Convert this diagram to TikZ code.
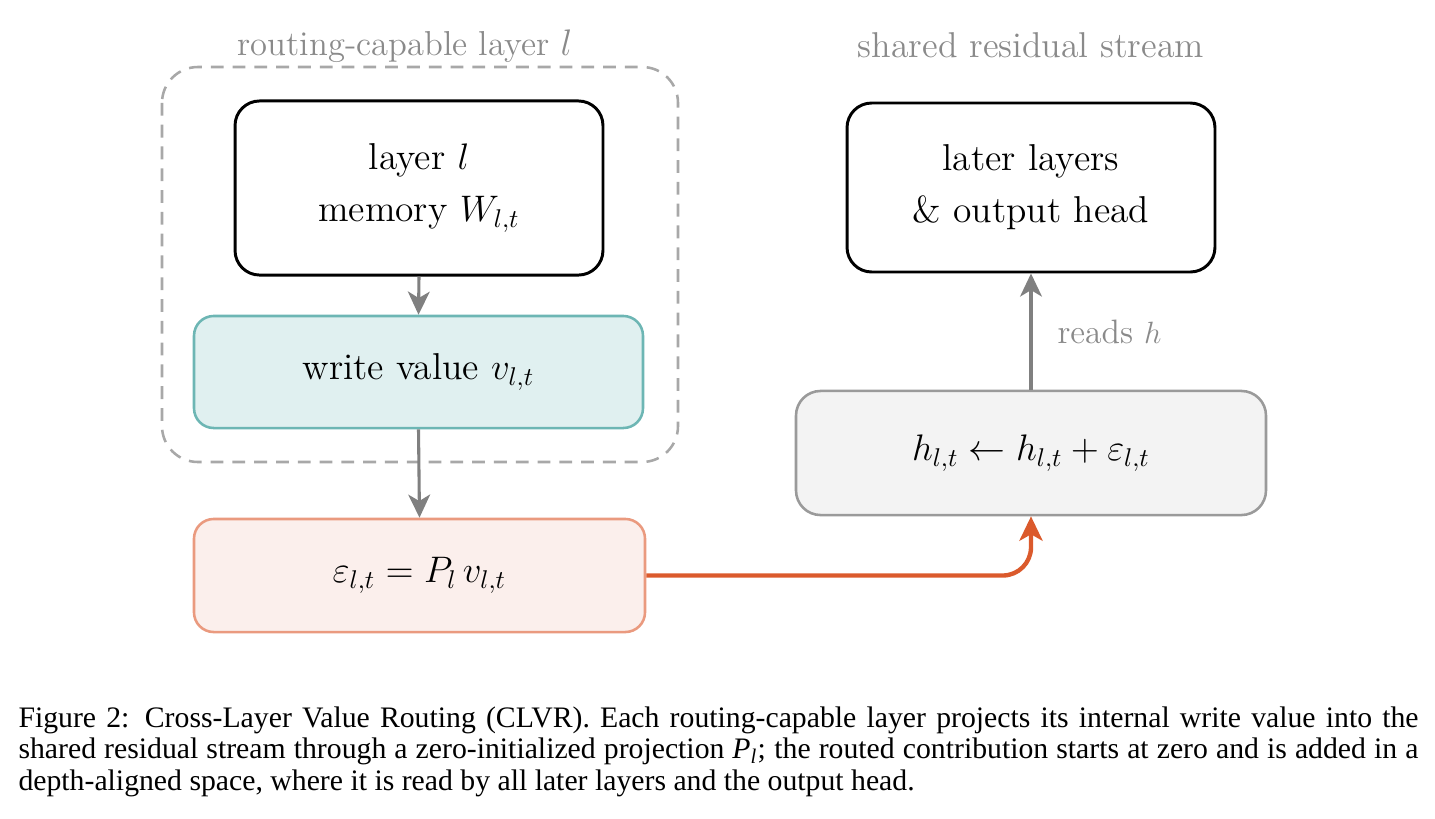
\documentclass[tikz,border=0pt]{standalone}
\usepackage{fontspec}
\usetikzlibrary{arrows.meta}
\newfontfamily\capfont{Liberation Serif}
\definecolor{arrgray}{HTML}{808080}
\definecolor{labgray}{HTML}{8A8A8A}
\definecolor{dashgray}{HTML}{A8A8A8}
\definecolor{tealdraw}{HTML}{6DB6B4}
\definecolor{tealfill}{HTML}{E0F0F0}
\definecolor{ordraw}{HTML}{EA9A7F}
\definecolor{orfill}{HTML}{FBEFEC}
\definecolor{orarrow}{HTML}{DB5A2C}
\definecolor{gbdraw}{HTML}{9A9A9A}
\definecolor{gbfill}{HTML}{F3F3F3}
\begin{document}
\begin{tikzpicture}[x=0.39pt,y=-0.39pt,
  dfont/.style={font=\fontsize{14.6}{20.3}\selectfont},
  blackbox/.style={dfont,draw=black,line width=1.15pt,rounded corners=9.6pt,align=center,inner sep=0pt},
  tealbox/.style={dfont,draw=tealdraw,fill=tealfill,line width=1pt,rounded corners=7.7pt,align=center,inner sep=0pt},
  orbox/.style={dfont,draw=ordraw,fill=orfill,line width=1pt,rounded corners=7.7pt,align=center,inner sep=0pt},
  graybox/.style={dfont,draw=gbdraw,fill=gbfill,line width=1pt,rounded corners=9.6pt,align=center,inner sep=0pt},
  grouplabel/.style={font=\fontsize{14}{17}\selectfont,text=labgray,inner sep=0pt},
  smalllabel/.style={font=\fontsize{13.2}{16}\selectfont,text=labgray,inner sep=0pt},
  grayarrow/.style={draw=arrgray,line width=1.2pt,-{Stealth[length=9pt,width=8.5pt,inset=2.5pt]}},
  orangearrow/.style={draw=orarrow,line width=1.7pt,rounded corners=11pt,-{Stealth[length=9.5pt,width=9pt,inset=2.5pt]}},
  dashedgroup/.style={draw=dashgray,line width=1pt,dashed,dash pattern=on 5pt off 3.5pt,rounded corners=14pt}
]
\useasboundingbox (0,0) rectangle (1435,818);
% dashed group
\draw[dashedgroup] (162,67) rectangle (678,462);
\node[grouplabel,font=\fontsize{13.5}{16}\selectfont,anchor=base] (glab) at (405,55) {routing-capable layer $l$};
\node[grouplabel,anchor=base] (slab) at (1031,57) {shared residual stream};
% nodes
\node[blackbox,minimum width=143.5pt,minimum height=67.9pt] (A) at (419,188) {layer $l$\\ memory $W_{l,t}$};
\node[tealbox,minimum width=175.1pt,minimum height=43.7pt] (T) at (418.5,372) {write value $v_{l,t}$};
\node[orbox,minimum width=175.9pt,minimum height=44.1pt] (O) at (419.5,575.5) {$\varepsilon_{l,t} = P_l\, v_{l,t}$};
\node[blackbox,minimum width=143.5pt,minimum height=65.9pt] (L) at (1031,187.5) {later layers\\ \& output head};
\node[graybox,minimum width=183.3pt,minimum height=48.4pt] (G) at (1031,453) {$h_{l,t} \leftarrow h_{l,t} + \varepsilon_{l,t}$};
% connectors
\draw[grayarrow] (A.south) -- (T.north);
\draw[grayarrow] (T.south) -- (O.north);
\draw[grayarrow] (G.north) -- (L.south);
\node[smalllabel,anchor=base west] (rlab) at (1057,343) {reads $h$};
\draw[orangearrow] (O.east) -| (G.south);
% caption
\node[anchor=base west,inner sep=0pt,text width=546pt,align=justify,
  font=\capfont\fontsize{11.6}{12.3}\selectfont] (cap) at (18,727)
{Figure 2: Cross-Layer Value Routing (CLVR). Each routing-capable layer projects its internal write value into the\linebreak
shared residual stream through a zero-initialized projection {\itshape P}\textsubscript{\itshape l}; the routed contribution starts at zero and is added in a\linebreak
depth-aligned space, where it is read by all later layers and the output head.};
\end{tikzpicture}
\end{document}
